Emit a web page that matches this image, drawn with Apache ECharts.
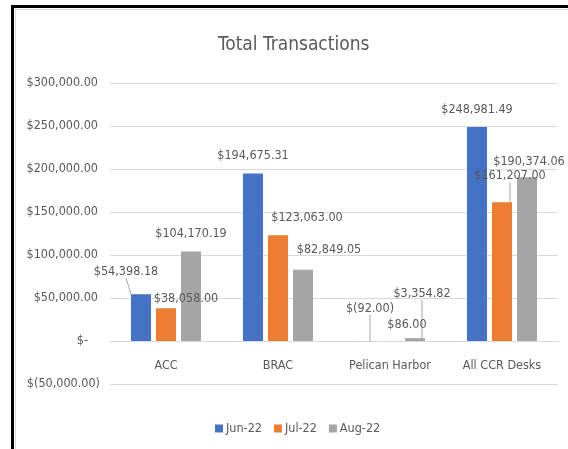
<!DOCTYPE html>
<html>
<head>
<meta charset="utf-8">
<title>Total Transactions</title>
<script src="https://cdn.jsdelivr.net/npm/echarts@6/dist/echarts.min.js"></script>
<style>
    html, body {
        margin: 0;
        padding: 0;
        background: #fff;
    }
    #chartBox {
        position: absolute;
        left: 0;
        top: 0;
        width: 568px;
        height: 449px;
    }
    /* 截图里的黑色外框（只有上边和左边） */
    .frame {
        position: absolute;
        left: 11px;
        top: 5px;
        right: 0;
        bottom: -10px;
        border-top: 3px solid #000;
        border-left: 3px solid #000;
        pointer-events: none;
    }
    .frame .inner {
        position: absolute;
        left: 1px;
        top: 1px;
        right: 0;
        bottom: 0;
        border-top: 1px solid #d9d9d9;
        border-left: 1px solid #d9d9d9;
    }
</style>
</head>
<body>
<div id="chartBox"></div>
<div class="frame"><div class="inner"></div></div>
<script>
    // 数据
    var categories = ['ACC', 'BRAC', 'Pelican Harbor', 'All CCR Desks']
    var jun22 = [54398.18, 194675.31, -92.00, 248981.49]
    var jul22 = [38058.00, 123063.00, 86.00, 161207.00]
    var aug22 = [104170.19, 82849.05, 3354.82, 190374.06]
    var seriesNames = ['Jun-22', 'Jul-22', 'Aug-22']

    var colors = ['#4472c4', '#ed7d31', '#a5a5a5']
    var textColor = '#595959'
    var font = "'DejaVu Sans Condensed', 'Liberation Sans', sans-serif"
    var fs = 12.5

    // 数据标签的挪动量 [dx, dy]，以及哪些标签带引导线
    var labelMoves = [
        [[-15, -5], [0, 0], [5, -15], [0, 0]],
        [[20, 8], [29, 0], [17, 1], [8, -9]],
        [[0, 0], [26, -2], [7, -27], [2, 2]]
    ]
    var leaderLines = [
        [true, false, true, false],
        [false, false, false, true],
        [false, false, true, false]
    ]

    // 会计格式 $1,234.56 / $(92.00)
    function money (v) {
        var s = Math.abs(v).toLocaleString('en-US', {
            minimumFractionDigits: 2,
            maximumFractionDigits: 2
        })
        return v < 0 ? '$(' + s + ')' : '$' + s
    }

    function makeSeries (name, values, idx) {
        return {
            name: name,
            type: 'bar',
            barWidth: 20,
            barGap: '25%',
            itemStyle: { color: colors[idx] },
            data: values.map(function (v, i) {
                return {
                    value: v,
                    labelLine: { show: leaderLines[idx][i] }
                }
            }),
            label: {
                show: true,
                position: 'top',
                distance: 11,
                color: textColor,
                fontSize: fs,
                fontFamily: font,
                formatter: function (p) {
                    return money(p.value)
                }
            },
            labelLine: {
                lineStyle: { color: '#a6a6a6', width: 1 }
            },
            labelLayout: function (p) {
                var m = labelMoves[idx][p.dataIndex]
                return { dx: m[0], dy: m[1] }
            }
        }
    }

    var chart = echarts.init(document.getElementById('chartBox'))
    var option = {
        backgroundColor: '#fff',
        animation: false,
        color: colors,
        // 标题
        title: {
            text: 'Total Transactions',
            left: 213,
            top: 31,
            textStyle: {
                color: textColor,
                fontSize: 19,
                fontWeight: 'normal',
                fontFamily: font
            }
        },
        // 图例
        legend: {
            data: seriesNames,
            left: 210,
            top: 417,
            icon: 'rect',
            itemWidth: 8,
            itemHeight: 8,
            itemGap: 12,
            textStyle: {
                color: textColor,
                fontSize: fs,
                fontFamily: font,
                padding: [0, 0, 0, -2]
            }
        },
        // 网格
        grid: {
            left: 110,
            right: 10,
            top: 83,
            bottom: 65
        },
        // x轴：类目标签挂在 0 线下面（-50000 那一格 = 43px）
        xAxis: {
            type: 'category',
            data: categories,
            offset: -43,
            axisLine: {
                show: true,
                onZero: false,
                lineStyle: { color: '#d9d9d9' }
            },
            axisTick: { show: false },
            axisLabel: {
                interval: 0,
                margin: 18,
                color: textColor,
                fontSize: fs,
                fontFamily: font
            }
        },
        // y轴
        yAxis: {
            type: 'value',
            min: -50000,
            max: 300000,
            interval: 50000,
            axisLine: { show: false },
            axisTick: { show: false },
            splitLine: {
                lineStyle: { color: '#d9d9d9', width: 1 }
            },
            axisLabel: {
                margin: 10,
                color: textColor,
                fontSize: fs,
                fontFamily: font,
                formatter: function (v) {
                    if (v === 0) return '{z|$-}'
                    if (v < 0) return money(v)
                    return '{p|' + money(v) + '}'
                },
                rich: {
                    z: { color: textColor, fontSize: fs, fontFamily: font, padding: [0, 12, 0, 0] },
                    p: { color: textColor, fontSize: fs, fontFamily: font, padding: [0, 2, 0, 0] }
                }
            }
        },
        // 系列列表
        series: [
            makeSeries(seriesNames[0], jun22, 0),
            makeSeries(seriesNames[1], jul22, 1),
            makeSeries(seriesNames[2], aug22, 2)
        ]
    }
    chart.setOption(option)
</script>
</body>
</html>
